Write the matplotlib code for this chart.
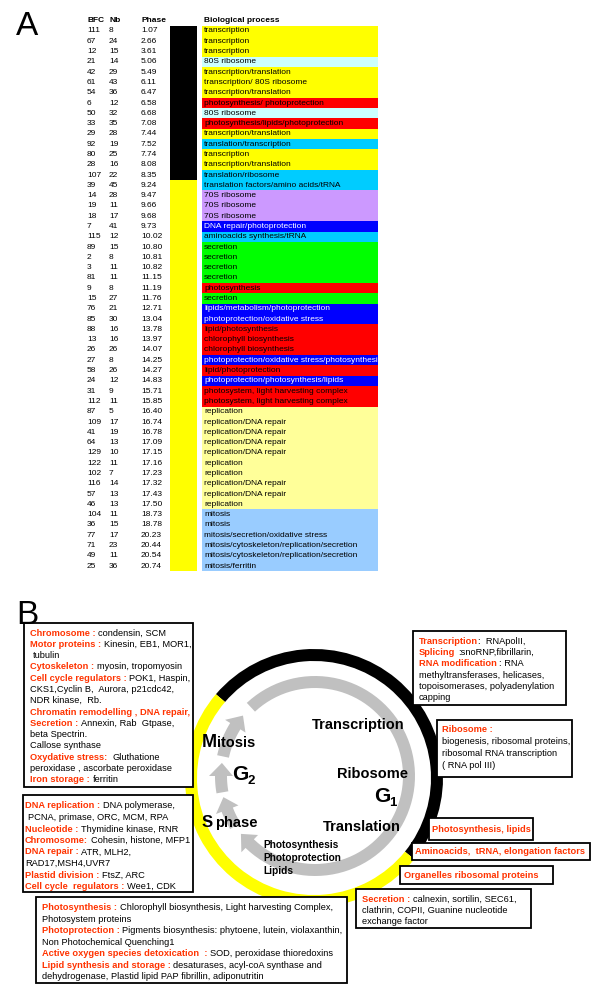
import numpy as np
import matplotlib
matplotlib.use('Agg')
import matplotlib.pyplot as plt
from matplotlib.patches import Rectangle, Polygon, Wedge

plt.rcParams['font.family'] = ['Liberation Sans', 'DejaVu Sans']

# ---- panel A table data ----
bfc = [111, 67, 12, 21, 42, 61, 54, 6, 50, 33, 29, 92, 80, 28, 107,
       39, 14, 19, 18, 7, 115, 89, 2, 3, 81, 9, 15, 76, 85, 88, 13, 26, 27, 58, 24, 31, 112,
       87, 109, 41, 64, 129, 122, 102, 116, 57, 46,
       104, 36, 77, 71, 49, 25]
nb = [8, 24, 15, 14, 29, 43, 36, 12, 32, 35, 28, 19, 25, 16, 22,
      45, 28, 11, 17, 41, 12, 15, 8, 11, 11, 8, 27, 21, 30, 16, 16, 26, 8, 26, 12, 9, 11,
      5, 17, 19, 13, 10, 11, 7, 14, 13, 13,
      11, 15, 17, 23, 11, 36]
phase = [1.07, 2.66, 3.61, 5.06, 5.49, 6.11, 6.47, 6.58, 6.68, 7.08, 7.44, 7.52, 7.74, 8.08, 8.35,
         9.24, 9.47, 9.66, 9.68, 9.73, 10.02, 10.80, 10.81, 10.82, 11.15, 11.19, 11.76, 12.71, 13.04,
         13.78, 13.97, 14.07, 14.25, 14.27, 14.83, 15.71, 15.85,
         16.40, 16.74, 16.78, 17.09, 17.15, 17.16, 17.23, 17.32, 17.43, 17.50,
         18.73, 18.78, 20.23, 20.44, 20.54, 20.74]
process = ["transcription", "transcription", "transcription", "80S ribosome",
           "transcription/translation", "transcription/ 80S ribosome", "transcription/translation",
           "photosynthesis/ photoprotection", "80S ribosome", "photosynthesis/lipids/photoprotection",
           "transcription/translation", "translation/transcription", "transcription",
           "transcription/translation", "translation/ribosome",
           "translation factors/amino acids/tRNA", "70S ribosome", "70S ribosome", "70S ribosome",
           "DNA repair/photoprotection", "aminoacids synthesis/tRNA", "secretion", "secretion",
           "secretion", "secretion", "photosynthesis", "secretion",
           "lipids/metabolism/photoprotection", "photoprotection/oxidative stress",
           "lipid/photosynthesis", "chlorophyll biosynthesis", "chlorophyll biosynthesis",
           "photoprotection/oxidative stress/photosynthesis", "lipid/photoprotection",
           "photoprotection/photosynthesis/lipids", "photosystem, light harvesting complex",
           "photosystem, light harvesting complex",
           "replication", "replication/DNA repair", "replication/DNA repair", "replication/DNA repair",
           "replication/DNA repair", "replication", "replication", "replication/DNA repair",
           "replication/DNA repair", "replication",
           "mitosis", "mitosis", "mitosis/secretion/oxidative stress",
           "mitosis/cytoskeleton/replication/secretion", "mitosis/cytoskeleton/replication/secretion",
           "mitosis/ferritin"]
category = ["tr", "tr", "tr", "r80", "tr", "tr", "tr", "ps", "r80", "ps", "tr", "tl", "tr", "tr", "tl",
            "tl", "r70", "r70", "r70", "pp", "tl", "sec", "sec", "sec", "sec", "ps", "sec",
            "pp", "pp", "ps", "ps", "ps", "pp", "ps", "pp", "ps", "ps",
            "rep", "rep", "rep", "rep", "rep", "rep", "rep", "rep", "rep", "rep",
            "mit", "mit", "mit", "mit", "mit", "mit"]
cat_colors = {"tr": "#ffff00", "r80": "#ccffff", "ps": "#ff0000", "tl": "#00ccff",
              "r70": "#cc99ff", "pp": "#0000ff", "sec": "#00ff00", "rep": "#ffff99",
              "mit": "#99ccff"}

RED = '#ff3300'

fig = plt.figure(figsize=(6, 9.9), dpi=100)
ax = fig.add_axes([0, 0, 1, 1])
ax.set_xlim(0, 600)
ax.set_ylim(990, 0)
ax.axis('off')
renderer = fig.canvas.get_renderer()

# ---- panel A ----
ax.text(16, 35, "A", fontsize=24, va='baseline', ha='left')
row0, dy = 31, 10.29
ys = row0 + dy * np.arange(len(bfc))
hy = row0 - dy
for x, s in [(87, "BFC"), (109, "Nb"), (141, "Phase"), (204, "Biological process")]:
    ax.text(x, hy, s, fontsize=6, fontweight='bold', va='center', ha='left')

n_g1 = sum(1 for p in phase if p < 9)
ax.add_patch(Rectangle((170, ys[0] - dy / 2), 27, dy * n_g1, fc='black', ec='none'))
ax.add_patch(Rectangle((170, ys[n_g1] - dy / 2), 27, dy * (len(phase) - n_g1), fc='#ffff00', ec='none'))

for i in range(len(bfc)):
    y = ys[i]
    ax.text(87, y, str(bfc[i]), fontsize=6, va='center', ha='left')
    ax.text(109, y, str(nb[i]), fontsize=6, va='center', ha='left')
    ax.text(141, y, "%.2f" % phase[i], fontsize=6, va='center', ha='left')
    c = cat_colors[category[i]]
    ax.add_patch(Rectangle((202, y - dy / 2), 176, dy, fc=c, ec='none'))
    tc = 'white' if category[i] == 'pp' else 'black'
    ax.text(204, y, process[i], fontsize=6, va='center', ha='left', color=tc)

# ---- panel B ----
ax.text(16, 624, "B", fontsize=24, va='baseline', ha='left')

# outer ring (y axis inverted -> data angles mirrored)
cx, cy = 314, 778
ax.add_patch(Wedge((cx, cy), 129, -139.5, 39, width=12, fc='black', ec='none'))
ax.add_patch(Wedge((cx, cy), 129, 39, 220.5, width=12, fc='#ffff00', ec='none'))

GREY = '#c0c0c0'


def arc_arrow(a0, a1, r=94, w=12, hw=24, hl=8, c=(315, 776)):
    sg = np.sign(a1 - a0)
    neck = a1 - sg * hl
    t = np.radians(np.linspace(a0, neck, 80))
    ox = c[0] + (r + w / 2) * np.cos(t); oy = c[1] - (r + w / 2) * np.sin(t)
    ix = c[0] + (r - w / 2) * np.cos(t); iy = c[1] - (r - w / 2) * np.sin(t)
    tn, tt = np.radians(neck), np.radians(a1)
    pts = list(zip(ox, oy))
    pts.append((c[0] + (r + hw / 2) * np.cos(tn), c[1] - (r + hw / 2) * np.sin(tn)))
    pts.append((c[0] + r * np.cos(tt), c[1] - r * np.sin(tt)))
    pts.append((c[0] + (r - hw / 2) * np.cos(tn), c[1] - (r - hw / 2) * np.sin(tn)))
    pts += list(zip(ix[::-1], iy[::-1]))
    ax.add_patch(Polygon(pts, closed=True, fc=GREY, ec='none'))


arc_arrow(133, -142)
arc_arrow(212, 193)
arc_arrow(190, 172)
arc_arrow(168, 140)


def seq_text(x, y, parts, va='baseline'):
    for s, size, kw in parts:
        t = ax.text(x, y, s, fontsize=size, va=va, ha='left', **kw)
        x += t.get_window_extent(renderer).width


B = dict(fontweight='bold')
ax.text(312, 729, "Transcription", fontsize=10.5, va='baseline', **B)
ax.text(337, 778, "Ribosome", fontsize=10.5, va='baseline', **B)
ax.text(323, 831, "Translation", fontsize=10.5, va='baseline', **B)
ax.text(374, 802, "G", fontsize=15, va='baseline', **B)
ax.text(389, 806, "1", fontsize=9.5, va='baseline', **B)
ax.text(232, 780, "G", fontsize=15, va='baseline', **B)
ax.text(248, 784, "2", fontsize=9.5, va='baseline', **B)
seq_text(202, 747, [("M", 13, B), ("itosis", 10.5, B)])
ax.text(202, 827, "S", fontsize=12, va='baseline', **B)
ax.text(215, 827, "phase", fontsize=10.5, va='baseline', **B)
for k, s in enumerate(["Photosynthesis", "Photoprotection", "Lipids"]):
    ax.text(263, 848 + 13 * k, s, fontsize=7.3, va='baseline', **B)

FS = 6.7
SP = 0.278 * FS * 100 / 72


def rich(x, y, parts):
    for s, red in parts:
        lead = len(s) - len(s.lstrip(' '))
        trail = len(s) - len(s.rstrip(' '))
        x += lead * SP
        core = s.strip(' ')
        if core:
            t = ax.text(x, y, core, fontsize=FS, va='center', ha='left',
                        color=RED if red else 'black', fontweight='bold' if red else 'normal')
            x += t.get_window_extent(renderer).width
        x += trail * SP


def box(x0, y0, x1, y1):
    ax.add_patch(Rectangle((x0, y0), x1 - x0, y1 - y0, fc='white', ec='black', lw=1.3))


def text_box(x0, y0, x1, y1, tx, ty, step, lines):
    box(x0, y0, x1, y1)
    for k, parts in enumerate(lines):
        rich(tx, ty + step * k, parts)


R, K = True, False
text_box(24, 623, 193, 787, 30, 633, 11.3, [
    [("Chromosome : ", R), ("condensin, SCM", K)],
    [("Motor proteins : ", R), ("Kinesin, EB1, MOR1,", K)],
    [(" tubulin", K)],
    [("Cytoskeleton : ", R), ("myosin, tropomyosin", K)],
    [("Cell cycle regulators : ", R), ("POK1, Haspin,", K)],
    [("CKS1,Cyclin B,  Aurora, p21cdc42,", K)],
    [("NDR kinase,  Rb.", K)],
    [("Chromatin remodelling , DNA repair,", R)],
    [("Secretion : ", R), ("Annexin, Rab  Gtpase,", K)],
    [("beta Spectrin.", K)],
    [("Callose synthase", K)],
    [("Oxydative stress:  ", R), ("Gluthatione", K)],
    [("peroxidase , ascorbate peroxidase", K)],
    [("Iron storage : ", R), ("ferritin", K)],
])
text_box(23, 795, 193, 892, 25, 806, 11.5, [
    [("DNA replication : ", R), ("DNA polymerase,", K)],
    [(" PCNA, primase, ORC, MCM, RPA", K)],
    [("Nucleotide : ", R), ("Thymidine kinase, RNR", K)],
    [("Chromosome: ", R), ("Cohesin, histone, MFP1", K)],
    [("DNA repair : ", R), ("ATR, MLH2,", K)],
    [("RAD17,MSH4,UVR7", K)],
    [("Plastid division : ", R), ("FtsZ, ARC", K)],
    [("Cell cycle  regulators : ", R), ("Wee1, CDK", K)],
])
text_box(36, 897, 347, 983, 42, 908, 11.45, [
    [("Photosynthesis : ", R), ("Chlorophyll biosynthesis, Light harvesting Complex,", K)],
    [("Photosystem proteins", K)],
    [("Photoprotection : ", R), ("Pigments biosynthesis: phytoene, lutein, violaxanthin,", K)],
    [("Non Photochemical Quenching1", K)],
    [("Active oxygen species detoxication  : ", R), ("SOD, peroxidase thioredoxins", K)],
    [("Lipid synthesis and storage : ", R), ("desaturases, acyl-coA synthase and", K)],
    [("dehydrogenase, Plastid lipid PAP fibrillin, adiponutritin", K)],
])
text_box(413, 631, 566, 705, 419, 641, 11.4, [
    [("Transcription", R), (":  RNApolII,", K)],
    [("Splicing", R), (" :snoRNP,fibrillarin,", K)],
    [("RNA modification", R), (" : RNA", K)],
    [("methyltransferases, helicases,", K)],
    [("topoisomerases, polyadenylation", K)],
    [("capping", K)],
])
text_box(437, 720, 572, 777, 442, 730, 11.9, [
    [("Ribosome :", R)],
    [("biogenesis, ribosomal proteins,", K)],
    [("ribosomal RNA transcription", K)],
    [("( RNA pol III)", K)],
])
text_box(356, 889, 531, 928, 362, 899, 11.5, [
    [("Secretion : ", R), ("calnexin, sortilin, SEC61,", K)],
    [("clathrin, COPII, Guanine nucleotide", K)],
    [("exchange factor", K)],
])
text_box(429, 818, 533, 840, 432, 829.5, 0, [[("Photosynthesis, lipids", R)]])
text_box(412, 843, 590, 860, 415, 852, 0, [[("Aminoacids,  tRNA, elongation factors", R)]])
text_box(400, 866, 553, 884, 404, 875.5, 0, [[("Organelles ribosomal proteins", R)]])

fig.savefig('out.png', dpi=100)
